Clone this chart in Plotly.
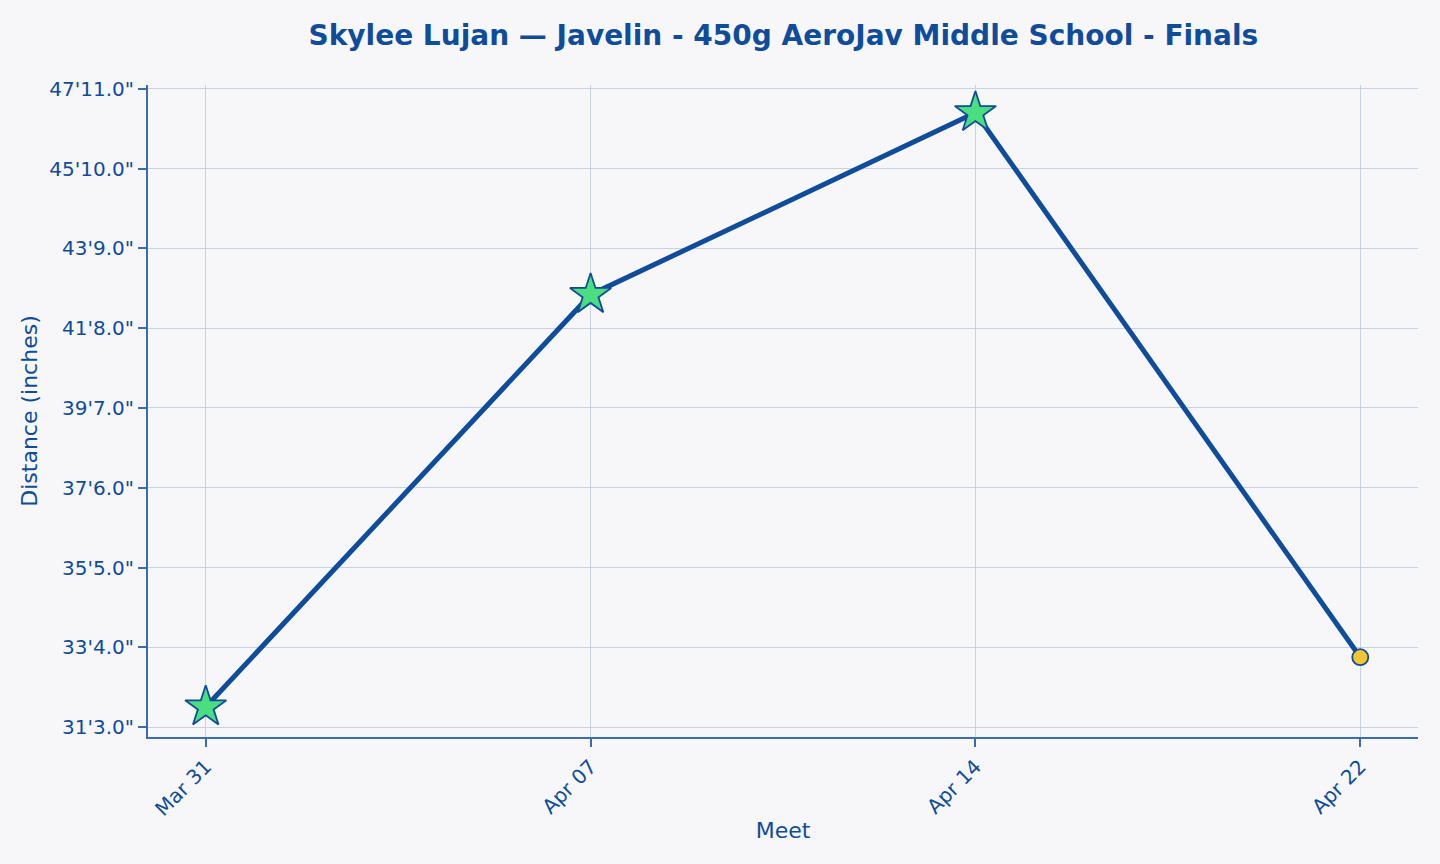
import plotly.graph_objects as go

meets = ["Mar 31", "Apr 07", "Apr 14", "Apr 22"]
distance_in = [381.3, 510.5, 567.5, 396.9]
is_pr = [True, True, True, False]

tick_vals = [375, 400, 425, 450, 475, 500, 525, 550, 575]
tick_text = ["31'3.0\"", "33'4.0\"", "35'5.0\"", "37'6.0\"", "39'7.0\"",
             "41'8.0\"", "43'9.0\"", "45'10.0\"", "47'11.0\""]

blue = "#0f4c9c"
symbols = ["star" if p else "circle" for p in is_pr]
sizes = [31 if p else 16 for p in is_pr]
fills = ["#4ade80" if p else "#f5c431" for p in is_pr]

fig = go.Figure()
fig.add_trace(go.Scatter(
    x=meets, y=distance_in, mode="lines+markers",
    line=dict(color=blue, width=5),
    marker=dict(symbol=symbols, size=sizes, color=fills, opacity=1,
                line=dict(color=blue, width=1.8)),
    showlegend=False,
))

fig.update_layout(
    width=1440, height=864,
    paper_bgcolor="#f7f7fa", plot_bgcolor="#f7f7fa",
    font=dict(family="DejaVu Sans", color=blue, size=20),
    title=dict(text="<b>Skylee Lujan — Javelin - 450g AeroJav Middle School - Finals</b>",
               x=0.544, xanchor="center", y=0.959, yanchor="middle",
               font=dict(size=28, color=blue)),
    margin=dict(l=148, r=22, t=85, b=127),
    xaxis=dict(type="category", range=[-0.15, 3.15],
               title=dict(text="Meet", font=dict(size=22), standoff=3),
               tickangle=-45, ticks="outside", ticklen=8, tickwidth=2, tickcolor="#3a6db0",
               showline=True, linecolor="#3a6db0", linewidth=2,
               showgrid=True, gridcolor="#c5d3e6", gridwidth=1,
               tickfont=dict(size=20), zeroline=False),
    yaxis=dict(range=[371.9, 576.2], tickvals=tick_vals, ticktext=tick_text,
               title=dict(text="Distance (inches)", font=dict(size=22), standoff=6),
               ticks="outside", ticklen=8, tickwidth=2, tickcolor="#3a6db0",
               showline=True, linecolor="#3a6db0", linewidth=2,
               showgrid=True, gridcolor="#c5d3e6", gridwidth=1,
               tickfont=dict(size=20), zeroline=False),
)

fig.write_html("out.html")
